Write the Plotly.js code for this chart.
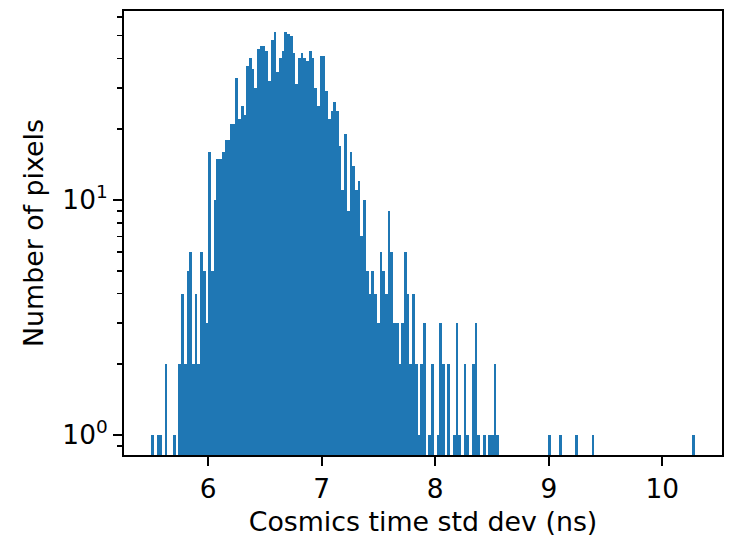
<!DOCTYPE html>
<html><head><meta charset="utf-8">
<script src="https://cdn.plot.ly/plotly-3.0.1.min.js"></script>
<style>html,body{margin:0;padding:0;background:#fff}#chart{width:751px;height:537px}</style>
</head><body><div id="chart"></div>
<script>
// histogram: 200 equal bins between binMin and binMax
const binMin = 5.499;
const binMax = 10.286;
const counts = [
  1,0,1,1,0,2,0,0,1,0,
  2,4,2,5,6,2,4,2,6,5,
  3,16,5,10,15,15,16,18,18,21,
  21,33,22,25,23,37,40,36,30,44,
  45,45,43,32,48,52,35,40,43,52,
  51,50,42,31,40,42,40,39,43,40,
  30,25,41,41,29,22,24,26,24,17,
  11,19,9,16,14,11,12,7,10,5,
  4,5,4,3,6,5,4,9,6,3,
  3,2,3,6,4,2,4,2,1,2,
  3,0,1,2,0,1,3,2,0,2,
  0,1,3,1,0,2,1,0,2,3,
  1,0,1,0,1,1,2,1,0,0,
  0,0,0,0,0,0,0,0,0,0,
  0,0,0,0,0,0,1,0,0,0,
  1,0,0,0,0,0,1,0,0,0,
  0,0,1,0,0,0,0,0,0,0,
  0,0,0,0,0,0,0,0,0,0,
  0,0,0,0,0,0,0,0,0,0,
  0,0,0,0,0,0,0,0,0,1
];
const xTickVals = [6,7,8,9,10];
const xTickText = ['6','7','8','9','10'];
const yTickVals = [1,10];
const yTickText = ['10<sup>0</sup>','10<sup>1</sup>'];
const yMinorVals = [0.9,2,3,4,5,6,7,8,9,20,30,40,50,60];
const xLabel = 'Cosmics time std dev (ns)';
const yLabel = 'Number of pixels';

const nb = counts.length;
const w = (binMax - binMin) / nb;
const xs = counts.map((c, i) => binMin + (i + 0.5) * w);
const ys = counts.map(c => c > 0 ? c : null);
const span = binMax - binMin;

const tickFont = {family: 'DejaVu Sans', size: 26.4, color: '#000'};
const titleFont = {family: 'DejaVu Sans', size: 26.8, color: '#000'};
const trace = {
  type: 'bar', x: xs, y: ys, width: counts.map(() => w),
  marker: {color: '#1f77b4', line: {width: 0}},
  hoverinfo: 'x+y'
};
const layout = {
  width: 751, height: 537,
  margin: {l: 124, r: 29, t: 11, b: 82},
  paper_bgcolor: '#fff', plot_bgcolor: '#fff',
  bargap: 0, showlegend: false,
  font: tickFont,
  xaxis: {
    range: [binMin - 0.05 * span, binMax + 0.05 * span],
    tickmode: 'array', tickvals: xTickVals, ticktext: xTickText,
    ticks: 'outside', ticklen: 9, tickwidth: 2, tickcolor: '#000',
    showline: true, linecolor: '#000', linewidth: 2, mirror: true,
    showgrid: false, zeroline: false,
    tickfont: tickFont,
    title: {text: xLabel, font: titleFont, standoff: 10}
  },
  yaxis: {
    type: 'log',
    range: [-0.0851, 1.804],
    tickmode: 'array', tickvals: yTickVals, ticktext: yTickText,
    ticks: 'outside', ticklen: 9, tickwidth: 2, tickcolor: '#000',
    minor: {tickmode: 'array', tickvals: yMinorVals, ticks: 'outside', ticklen: 5, tickwidth: 1.6, tickcolor: '#000', showgrid: false},
    showline: true, linecolor: '#000', linewidth: 2, mirror: true,
    showgrid: false, zeroline: false,
    tickfont: tickFont,
    title: {text: yLabel, font: titleFont, standoff: 11}
  }
};
Plotly.newPlot('chart', [trace], layout, {displayModeBar: false, staticPlot: true});
</script></body></html>
